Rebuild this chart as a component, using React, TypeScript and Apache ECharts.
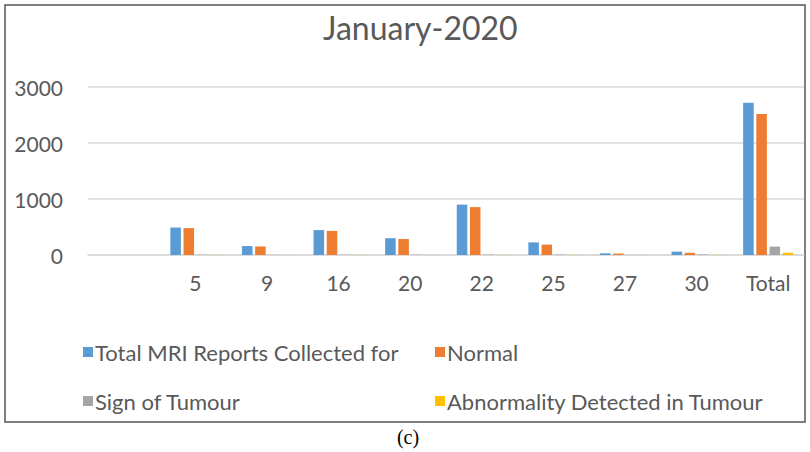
import React, { useEffect, useRef } from "react";
import * as echarts from "echarts";

const categories = ["", "5", "9", "16", "20", "22", "25", "27", "30", "Total"];
const totalReports = [0, 490, 160, 445, 300, 900, 225, 30, 60, 2720];
const normal = [0, 480, 150, 430, 285, 855, 185, 25, 40, 2520];
const signOfTumour = [0, 4, 3, 5, 5, 8, 8, 3, 10, 150];
const abnormality = [0, 2, 1, 2, 2, 3, 3, 1, 3, 40];
const yTicks = [0, 1000, 2000, 3000];

const seriesNames = [
  "Total MRI Reports Collected for",
  "Normal",
  "Sign of Tumour",
  "Abnormality Detected in Tumour",
];
const colors = ["#5B9BD5", "#ED7D31", "#A5A5A5", "#FFC000"];

const FONT = "Lato, 'Open Sans', sans-serif";
const TEXT = "#595959";

export default function App() {
  const ref = useRef<HTMLDivElement>(null);
  useEffect(() => {
    if (!ref.current) return;
    const chart = echarts.init(ref.current, undefined, { renderer: "svg" });
    const values = [totalReports, normal, signOfTumour, abnormality];
    const legendPos = [
      { left: 78, top: 336 },
      { left: 430, top: 336 },
      { left: 78, top: 385 },
      { left: 430, top: 385 },
    ];
    chart.setOption({
      animation: false,
      backgroundColor: "#ffffff",
      title: {
        text: "January-2020",
        left: 318,
        top: 6,
        textStyle: { fontFamily: FONT, fontSize: 32, fontWeight: "normal", color: TEXT },
      },
      legend: seriesNames.map((n, i) => ({
        data: [n],
        left: legendPos[i].left,
        top: legendPos[i].top,
        icon: "rect",
        itemWidth: 10,
        itemHeight: 10,
        selectedMode: false,
        textStyle: { fontFamily: FONT, fontSize: 22, color: TEXT, padding: [0, 0, 0, -3] },
      })),
      grid: { left: 88, right: 6, top: 87, bottom: 197 },
      xAxis: {
        type: "category",
        data: categories,
        axisLine: { lineStyle: { color: "#d9d9d9", width: 1.5 } },
        axisTick: { show: false },
        axisLabel: { fontFamily: FONT, fontSize: 21, color: TEXT, margin: 17, interval: 0 },
      },
      yAxis: {
        type: "value",
        min: yTicks[0],
        max: yTicks[yTicks.length - 1],
        interval: 1000,
        axisLine: { show: false },
        axisTick: { show: false },
        axisLabel: {
          fontFamily: FONT,
          fontSize: 21,
          color: TEXT,
          margin: 25,
          formatter: (v: number) => String(v),
        },
        splitLine: { lineStyle: { color: "#d9d9d9", width: 1.5 } },
      },
      series: seriesNames.map((n, i) => ({
        name: n,
        type: "bar",
        data: values[i],
        itemStyle: { color: colors[i] },
        barGap: "25%",
        barCategoryGap: "30%",
      })),
      graphic: [
        {
          type: "rect",
          shape: { x: 5, y: 5, width: 800, height: 417 },
          style: { fill: "none", stroke: "#555555", lineWidth: 1.5 },
          silent: true,
        },
        {
          type: "text",
          x: 408,
          y: 437,
          style: {
            text: "(c)",
            fontFamily: "'Liberation Serif', 'Times New Roman', serif",
            fontSize: 20,
            fill: "#000000",
            align: "center",
            verticalAlign: "middle",
          },
        },
      ],
    });
    return () => chart.dispose();
  }, []);
  return (
    <div
      ref={ref}
      style={{ position: "fixed", left: 0, top: 0, width: 810, height: 452 }}
    />
  );
}
